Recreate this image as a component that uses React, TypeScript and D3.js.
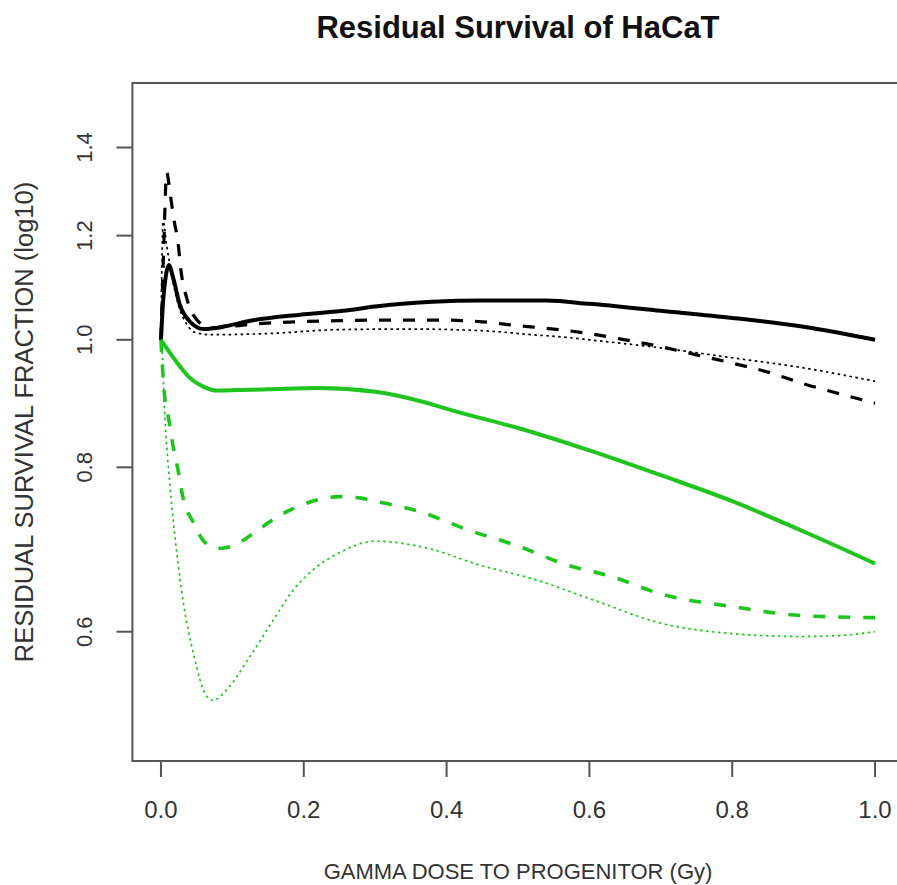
import React, { useEffect, useRef } from "react";
import * as d3 from "d3";

// dose (Gy) and residual survival fraction, one pair of arrays per curve
const blackSolidDose = [0, 0.003, 0.007, 0.011, 0.017, 0.026, 0.04, 0.06, 0.09, 0.125, 0.195, 0.255, 0.3, 0.38, 0.45, 0.54, 0.6, 0.7, 0.8, 0.9, 1.0];
const blackSolidFrac = [1.0, 1.07, 1.12, 1.14, 1.115, 1.065, 1.033, 1.019, 1.024, 1.034, 1.045, 1.052, 1.06, 1.069, 1.071, 1.071, 1.065, 1.052, 1.039, 1.023, 1.0];

const blackDashDose = [0, 0.004, 0.008, 0.013, 0.018, 0.024, 0.028, 0.036, 0.05, 0.07, 0.13, 0.19, 0.25, 0.3, 0.4, 0.45, 0.5, 0.55, 0.6, 0.65, 0.7, 0.75, 0.8, 0.85, 0.9, 0.95, 1.0];
const blackDashFrac = [1.0, 1.18, 1.34, 1.29, 1.236, 1.184, 1.129, 1.076, 1.036, 1.021, 1.028, 1.032, 1.034, 1.035, 1.035, 1.032, 1.025, 1.019, 1.011, 1.0, 0.988, 0.974, 0.96, 0.945, 0.926, 0.91, 0.895];

const blackDotDose = [0, 0.003, 0.008, 0.015, 0.025, 0.035, 0.05, 0.07, 0.15, 0.25, 0.35, 0.45, 0.52, 0.57, 0.6, 0.7, 0.8, 0.9, 1.0];
const blackDotFrac = [1.0, 1.23, 1.18, 1.12, 1.06, 1.03, 1.012, 1.009, 1.011, 1.018, 1.019, 1.016, 1.009, 1.004, 1.0, 0.986, 0.969, 0.952, 0.93];

const greenSolidDose = [0, 0.02, 0.04, 0.06, 0.078, 0.15, 0.22, 0.3, 0.35, 0.42, 0.5, 0.6, 0.7, 0.8, 0.9, 1.0];
const greenSolidFrac = [1.0, 0.965, 0.936, 0.921, 0.915, 0.917, 0.919, 0.913, 0.902, 0.88, 0.857, 0.824, 0.789, 0.754, 0.715, 0.676];

const greenDashDose = [0, 0.004, 0.012, 0.017, 0.024, 0.031, 0.045, 0.06, 0.08, 0.1, 0.13, 0.16, 0.2, 0.25, 0.28, 0.3, 0.36, 0.43, 0.5, 0.57, 0.63, 0.7, 0.8, 0.9, 1.0];
const greenDashFrac = [1.0, 0.92, 0.864, 0.83, 0.796, 0.758, 0.727, 0.703, 0.694, 0.697, 0.713, 0.732, 0.75, 0.76, 0.758, 0.754, 0.741, 0.717, 0.697, 0.674, 0.661, 0.641, 0.627, 0.617, 0.615];

const greenDotDose = [0, 0.0014, 0.0056, 0.0126, 0.022, 0.031, 0.045, 0.064, 0.073, 0.092, 0.125, 0.157, 0.185, 0.218, 0.25, 0.3, 0.375, 0.447, 0.517, 0.61, 0.7, 0.8, 0.895, 0.95, 1.0];
const greenDotFrac = [1.0, 0.981, 0.872, 0.775, 0.69, 0.633, 0.579, 0.536, 0.532, 0.542, 0.575, 0.612, 0.645, 0.672, 0.689, 0.703, 0.694, 0.674, 0.659, 0.633, 0.609, 0.598, 0.595, 0.596, 0.6];

const xTicks = [0, 0.2, 0.4, 0.6, 0.8, 1.0];
const yTicks = [0.6, 0.8, 1.0, 1.2, 1.4];

const GREEN = "#1fc41f";

const App = () => {
  const svgRef = useRef(null);

  useEffect(() => {
    const width = 897;
    const height = 885;
    const left = 132.4;
    const right = 903.6;
    const top = 83;
    const bottom = 761;
    const font = "Liberation Sans, Arial, sans-serif";

    const svg = d3.select(svgRef.current).attr("width", width).attr("height", height);
    svg.selectAll("*").remove();

    // R style 4% padding around xlim 0..1 and ylim 0.5..1.5 (log)
    const x = d3.scaleLinear().domain([-0.04, 1.04]).range([left, right]);
    const lo = Math.log10(0.5);
    const hi = Math.log10(1.5);
    const pad = (hi - lo) * 0.04;
    const y = d3
      .scaleLog()
      .domain([Math.pow(10, lo - pad), Math.pow(10, hi + pad)])
      .range([bottom, top]);

    // box
    svg
      .append("rect")
      .attr("x", left)
      .attr("y", top)
      .attr("width", right - left)
      .attr("height", bottom - top)
      .attr("fill", "none")
      .attr("stroke", "#555")
      .attr("stroke-width", 2);

    // x ticks
    const xg = svg.append("g");
    xg.selectAll("line")
      .data(xTicks)
      .join("line")
      .attr("x1", (d) => x(d))
      .attr("x2", (d) => x(d))
      .attr("y1", bottom)
      .attr("y2", bottom + 16)
      .attr("stroke", "#555")
      .attr("stroke-width", 2);
    xg.selectAll("text")
      .data(xTicks)
      .join("text")
      .attr("x", (d) => x(d))
      .attr("y", 818)
      .attr("text-anchor", "middle")
      .attr("font-family", font)
      .attr("font-size", 24)
      .attr("fill", "#333")
      .text((d) => d3.format(".1f")(d));

    // y ticks
    const yg = svg.append("g");
    yg.selectAll("line")
      .data(yTicks)
      .join("line")
      .attr("x1", left)
      .attr("x2", left - 16)
      .attr("y1", (d) => y(d))
      .attr("y2", (d) => y(d))
      .attr("stroke", "#555")
      .attr("stroke-width", 2);
    yg.selectAll("text")
      .data(yTicks)
      .join("text")
      .attr("transform", (d) => `translate(92,${y(d)}) rotate(-90)`)
      .attr("text-anchor", "middle")
      .attr("font-family", font)
      .attr("font-size", 22)
      .attr("fill", "#333")
      .text((d) => d3.format(".1f")(d));

    // curves
    const series = [
      { dose: blackSolidDose, frac: blackSolidFrac, color: "#000", w: 4, dash: null },
      { dose: blackDashDose, frac: blackDashFrac, color: "#000", w: 3.2, dash: "12,12" },
      { dose: blackDotDose, frac: blackDotFrac, color: "#000", w: 1.7, dash: "2.5,3.5" },
      { dose: greenSolidDose, frac: greenSolidFrac, color: GREEN, w: 4, dash: null },
      { dose: greenDashDose, frac: greenDashFrac, color: GREEN, w: 3.6, dash: "12,13" },
      { dose: greenDotDose, frac: greenDotFrac, color: GREEN, w: 1.7, dash: "2.5,3.5" },
    ];

    const line = d3
      .line()
      .x((d) => x(d[0]))
      .y((d) => y(d[1]))
      .curve(d3.curveMonotoneX);

    series.forEach((s) => {
      svg
        .append("path")
        .datum(s.dose.map((d, i) => [d, s.frac[i]]))
        .attr("fill", "none")
        .attr("stroke", s.color)
        .attr("stroke-width", s.w)
        .attr("stroke-dasharray", s.dash)
        .attr("stroke-linejoin", "round")
        .attr("d", line);
    });

    // title and axis labels
    svg
      .append("text")
      .attr("x", 518)
      .attr("y", 38)
      .attr("text-anchor", "middle")
      .attr("font-family", font)
      .attr("font-weight", "bold")
      .attr("font-size", 31)
      .attr("fill", "#111")
      .text("Residual Survival of HaCaT");

    svg
      .append("text")
      .attr("x", 518)
      .attr("y", 879)
      .attr("text-anchor", "middle")
      .attr("font-family", font)
      .attr("font-size", 22)
      .attr("fill", "#333")
      .text("GAMMA DOSE TO PROGENITOR (Gy)");

    svg
      .append("text")
      .attr("transform", `translate(33,${(top + bottom) / 2}) rotate(-90)`)
      .attr("text-anchor", "middle")
      .attr("font-family", font)
      .attr("font-size", 25.5)
      .attr("fill", "#333")
      .text("RESIDUAL SURVIVAL FRACTION (log10)");
  }, []);

  return <svg ref={svgRef} style={{ position: "absolute", left: 0, top: 0 }}></svg>;
};

export default App;
